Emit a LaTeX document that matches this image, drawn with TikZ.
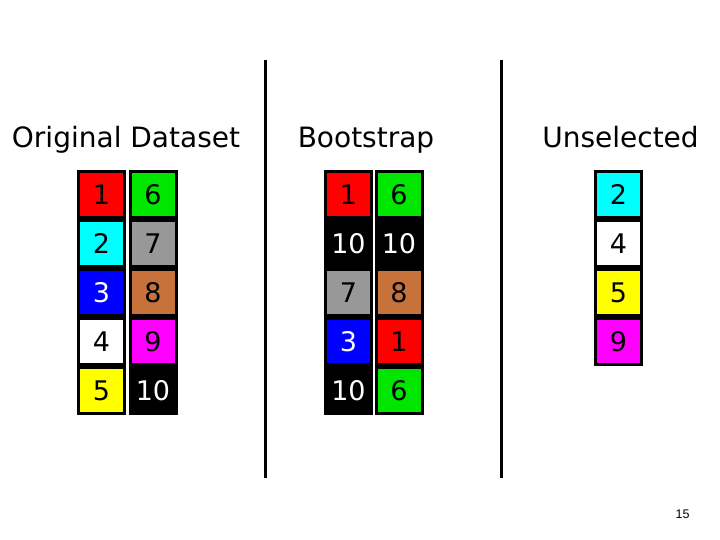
\documentclass[tikz,border=0pt]{standalone}
\usepackage{fontspec}
\setmainfont{DejaVu Sans}
\newfontfamily\pagefont{Liberation Sans}
\usepackage{tikz}

\definecolor{cred}{RGB}{255,0,0}
\definecolor{cgreen}{RGB}{0,230,0}
\definecolor{ccyan}{RGB}{0,255,255}
\definecolor{cgray}{RGB}{152,152,152}
\definecolor{cblue}{RGB}{0,0,255}
\definecolor{cbrown}{RGB}{198,114,58}
\definecolor{cmagenta}{RGB}{255,0,255}
\definecolor{cyellow}{RGB}{255,255,0}

\tikzset{
  cell/.style={draw=black, line width=3pt, minimum width=46pt, minimum height=46pt,
    inner sep=0pt, font=\fontsize{27}{27}\selectfont},
  dark/.style={cell, fill=black, text=white},
  title/.style={anchor=base, font=\fontsize{28}{28}\selectfont},
  divider/.style={line width=3pt}
}

\begin{document}
\begin{tikzpicture}[x=1pt,y=-1pt]
    \useasboundingbox[fill=white] (0,0) rectangle (720,540);
    % headings
    \node[title] (orig) at (126, 148) {Original Dataset};
    \node[title] (boot) at (366, 148) {Bootstrap};
    \node[title] (unsel) at (620.5, 148) {Unselected};
    % original data
    \node[cell, fill=cred] (o1) at (101.5, 194.5) {1};
    \node[cell, fill=ccyan] (o2) at (101.5, 243.5) {2};
    \node[cell, fill=cblue, text=white] (o3) at (101.5, 292.5) {3};
    \node[cell, fill=white] (o4) at (101.5, 341.5) {4};
    \node[cell, fill=cyellow] (o5) at (101.5, 390.5) {5};
    \node[cell, fill=cgreen] (o6) at (153, 194.5) {6};
    \node[cell, fill=cgray] (o7) at (153, 243.5) {7};
    \node[cell, fill=cbrown] (o8) at (153, 292.5) {8};
    \node[cell, fill=cmagenta] (o9) at (153, 341.5) {9};
    \node[dark] (o10) at (153, 390.5) {10};
    % bootstrap sample
    \node[cell, fill=cred] (b1) at (348.5, 194.5) {1};
    \node[dark] (b2) at (348.5, 243.5) {10};
    \node[cell, fill=cgray] (b3) at (348.5, 292.5) {7};
    \node[cell, fill=cblue, text=white] (b4) at (348.5, 341.5) {3};
    \node[dark] (b5) at (348.5, 390.5) {10};
    \node[cell, fill=cgreen] (b6) at (399, 194.5) {6};
    \node[dark] (b7) at (399, 243.5) {10};
    \node[cell, fill=cbrown] (b8) at (399, 292.5) {8};
    \node[cell, fill=cred] (b9) at (399, 341.5) {1};
    \node[cell, fill=cgreen] (b10) at (399, 390.5) {6};
    % left out
    \node[cell, fill=ccyan] (u1) at (618.5, 194.5) {2};
    \node[cell, fill=white] (u2) at (618.5, 243.5) {4};
    \node[cell, fill=cyellow] (u3) at (618.5, 292.5) {5};
    \node[cell, fill=cmagenta] (u4) at (618.5, 341.5) {9};
    % separators
    \draw[divider] (265, 60) -- (265, 478);
    \draw[divider] (501, 60) -- (501, 478);
    \node[font=\pagefont\fontsize{12.5}{12.5}\selectfont] (pg) at (682.5, 514.5) {15};
\end{tikzpicture}
\end{document}
